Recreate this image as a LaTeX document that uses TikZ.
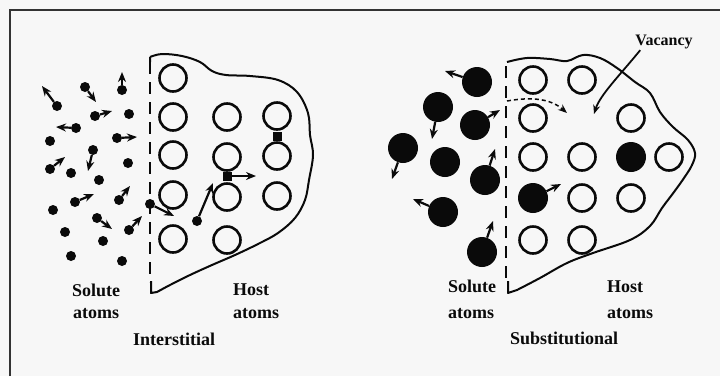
\documentclass[tikz,border=0pt]{standalone}
\usepackage{fontspec}
\setmainfont{Liberation Serif}
\usetikzlibrary{arrows.meta}
\definecolor{paper}{HTML}{F7F7F7}
\definecolor{ink}{HTML}{0A0A0A}
\begin{document}
\begin{tikzpicture}[x=1pt,y=-1pt,
  host/.style={circle,draw=ink,line width=2.6pt,minimum size=27pt,inner sep=0pt},
  subst/.style={circle,fill=ink,minimum size=30pt,inner sep=0pt},
  sol/.style={circle,fill=ink,minimum size=10pt,inner sep=0pt},
  big/.style={circle,fill=ink,minimum size=30pt,inner sep=0pt},
  inter/.style={rectangle,fill=ink,minimum size=9pt,inner sep=0pt},
  mv/.style={line width=2.2pt,draw=ink,-{Stealth[length=10pt,width=8pt]}},
  wall/.style={draw=ink,line width=2.6pt,dash pattern=on 12pt off 8pt},
  rim/.style={draw=ink,line width=2pt,line join=round},
  lbl/.style={font=\fontsize{18}{22}\selectfont\bfseries,text=ink,inner sep=0pt,anchor=base west}]

% page and frame
\fill[paper] (0,0) rectangle (720,376);
\useasboundingbox (0,0) rectangle (720,376);
\draw[line width=2.4pt,draw=black!80] (10,376) -- (10,10) -- (720,10);

% ================= interstitial =================
\draw[wall] (150,62) -- (150,282);
\draw[rim] (150,62) -- (150,57) plot[smooth,tension=0.6] coordinates {
  (150,57) (162,54) (182,56) (200,62) (212,71) (226,75) (250,76) (278,80)
  (297,92) (308,113) (310,135) (313,155) (309,180) (305,200) (295,218)
  (278,233) (258,244) (235,255) (212,265) (190,275) (170,285) (157,292)}
  -- (151,293) -- (151,281);

% host lattice
\foreach \n/\x/\y in {a/173/78, b/173/117, c/173/155, d/173/195, e/173/239,
                      f/227/117, g/227/157, h/227/197, i/227/240,
                      j/277/116, k/277/156, l/277/196}
  \node[host] (H\n) at (\x,\y) {};

% interstitial atoms squeezed between host atoms
\node[inter] (q1) at (227,176) {};
\node[inter] (q2) at (277,136) {};
\coordinate (q1t) at (256,176);
\draw[mv] (q1) -- (q1t);

% solute atoms without motion arrows
\foreach \n/\x/\y in {5/129/114, 7/50/141, 11/71/173, 12/128/163, 13/99/180,
                      15/53/210, 19/65/232, 20/103/241, 21/71/256, 22/122/261}
  \node[sol] (s\n) at (\x,\y) {};

% solute atoms with motion arrows
\foreach \n/\x/\y/\tx/\ty in {1/57/106/42/86, 2/85/87/96/102, 3/122/90/122/72,
    4/95/116/112/111, 6/76/128/56/127, 8/117/138/137/137, 9/93/150/88/171,
    10/50/169/65/157, 14/75/202/94/194, 16/119/200/130/186, 17/97/218/112/229,
    18/129/230/142/216, 23/150/204/174/216, 25/197/221/213/183}{
  \node[sol] (s\n) at (\x,\y) {};
  \coordinate (t\n) at (\tx,\ty);
  \draw[mv] (s\n) -- (t\n);
}

\node[lbl] (solA) at (72,296) {Solute};
\node[lbl] (solB) at (73,318) {atoms};
\node[lbl] (hostA) at (233,295) {Host};
\node[lbl] (hostB) at (233,318) {atoms};
\node[lbl] (inter) at (133,345) {Interstitial};

% ================= substitutional =================
\draw[wall] (506,66) -- (506,282);
\draw[rim] (507,62) plot[smooth,tension=0.6] coordinates {
  (507,62) (527,58) (550,59) (567,61) (583,55) (600,58) (617,68) (635,82)
  (650,93) (660,112) (673,127) (688,140) (695,153) (692,165) (684,178)
  (674,192) (662,208) (650,226) (630,240) (593,253) (567,263) (540,278)
  (517,290)} -- (508,293) -- (508,281);

% host lattice with one vacancy
\foreach \n/\x/\y in {a/533/80, b/582/80, c/533/118, d/631/118,
                      e/533/157, f/582/157, g/669/157,
                      h/582/198, i/631/198, j/533/240, k/582/240}
  \node[host] (G\n) at (\x,\y) {};
\node[subst] (P1) at (631,157) {};
\node[subst] (P2) at (533,198) {};
\coordinate (P2t) at (561,184);
\draw[mv] (P2) -- (P2t);

% jump of a host atom into the vacancy
\coordinate (d0) at (507,101);
\coordinate (d1) at (567,113);
\draw[line width=1.5pt,draw=ink,dash pattern=on 4pt off 3pt,-{Stealth[length=9pt,width=7pt]}]
  (d0) .. controls (535,96) and (552,100) .. (d1);

% solute atoms
\node[big] (B5) at (445,162) {};
\foreach \n/\x/\y/\tx/\ty in {1/477/82/445/71, 2/438/107/432/139,
    3/475/125/500/110, 4/403/148/392/179, 6/485/180/495/149,
    7/443/212/413/199, 8/482/252/493/221}{
  \node[big] (B\n) at (\x,\y) {};
  \coordinate (u\n) at (\tx,\ty);
  \draw[mv] (B\n) -- (u\n);
}

% vacancy pointer
\node[font=\fontsize{16}{19}\selectfont\bfseries,text=ink,inner sep=1pt] (vac) at (664,42) {Vacancy};
\coordinate (vt) at (594,114);
\draw[line width=1.8pt,draw=ink,-{Stealth[length=9pt,width=7pt]}]
  (vac.south west) ++(6,0) coordinate (v0) (v0) .. controls (620,75) and (600,95) .. (vt);

\node[lbl] (solC) at (448,292) {Solute};
\node[lbl] (solD) at (448,318) {atoms};
\node[lbl] (hostC) at (607,292) {Host};
\node[lbl] (hostD) at (607,318) {atoms};
\node[lbl] (subs) at (510,344) {Substitutional};
\end{tikzpicture}
\end{document}
